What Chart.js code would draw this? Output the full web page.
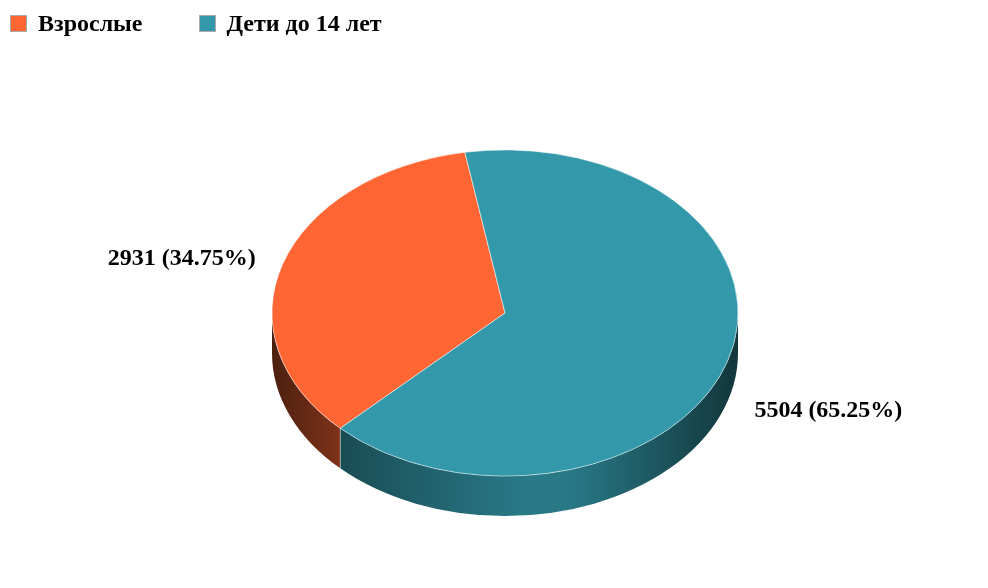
<!DOCTYPE html>
<html lang="ru">
<head>
<meta charset="UTF-8">
<title>Взрослые и дети</title>
<script src="https://cdn.jsdelivr.net/npm/chart.js"></script>
<style>
  body { margin: 0; background: #fff; }
  .wrap { position: relative; width: 988px; height: 588px; }
  .legend {
    position: absolute; top: 10px; left: 10px;
    display: flex; align-items: center;
    font: bold 24px/26px "Liberation Serif", "Times New Roman", serif;
    color: #000;
  }
  .legend .item { display: flex; align-items: center; margin-right: 56px; }
  .legend .box {
    width: 15px; height: 15px; border: 1px solid #aaa;
    margin-right: 11px;
  }
</style>
</head>
<body>
<div class="wrap">
  <canvas id="pie" width="988" height="588"></canvas>
  <div class="legend" id="legend"></div>
</div>

<script>
// данные
const labels = ['Взрослые', 'Дети до 14 лет'];
const values = [2931, 5504];
const colors = ['#FF6633', '#3399AA'];

const TILT = 0.70;   // ry / rx
const DEPTH = 40;    // толщина "3D" бока
const sideStops = [[0, 0.3], [0.15, 0.5], [0.55, 0.8], [0.65, 0.78], [1, 0.35]];

function shade(hex, f) {
  const n = parseInt(hex.slice(1), 16);
  const r = Math.round(((n >> 16) & 255) * f);
  const g = Math.round(((n >> 8) & 255) * f);
  const b = Math.round((n & 255) * f);
  return `rgb(${r},${g},${b})`;
}

// html легенда
const legendEl = document.getElementById('legend');
labels.forEach((l, i) => {
  const it = document.createElement('div');
  it.className = 'item';
  it.innerHTML = `<span class="box" style="background:${colors[i]}"></span><span>${l}</span>`;
  legendEl.appendChild(it);
});

const pie3d = {
  id: 'pie3d',
  beforeDatasetsDraw(chart) {
    const ctx = chart.ctx;
    const arcs = chart.getDatasetMeta(0).data;
    if (!arcs.length) return;
    const cx = arcs[0].x, cy = arcs[0].y, rx = arcs[0].outerRadius, ry = rx * TILT;

    // боковая стенка (только передняя половина)
    arcs.forEach((arc, i) => {
      for (let k = -1; k <= 2; k++) {
        const lo = Math.max(arc.startAngle, 2 * Math.PI * k);
        const hi = Math.min(arc.endAngle, 2 * Math.PI * k + Math.PI);
        if (hi <= lo) continue;
        const g = ctx.createLinearGradient(cx - rx, 0, cx + rx, 0);
        sideStops.forEach(s => g.addColorStop(s[0], shade(colors[i], s[1])));
        ctx.beginPath();
        ctx.ellipse(cx, cy, rx, ry, 0, lo, hi);
        ctx.ellipse(cx, cy + DEPTH, rx, ry, 0, hi, lo, true);
        ctx.closePath();
        ctx.fillStyle = g;
        ctx.fill();
      }
    });
    // линии на стыках сегментов
    ctx.strokeStyle = 'rgba(255,255,255,0.45)';
    ctx.lineWidth = 1;
    arcs.forEach(arc => {
      const a = arc.startAngle;
      if (Math.sin(a) > 0) {
        const x = cx + rx * Math.cos(a), y = cy + ry * Math.sin(a);
        ctx.beginPath();
        ctx.moveTo(x, y);
        ctx.lineTo(x, y + DEPTH);
        ctx.stroke();
      }
    });

    // сжатие круга в эллипс
    ctx.save();
    ctx.translate(cx, cy);
    ctx.scale(1, TILT);
    ctx.translate(-cx, -cy);
  },
  afterDatasetsDraw(chart) {
    const ctx = chart.ctx;
    ctx.restore();
    const arcs = chart.getDatasetMeta(0).data;
    if (!arcs.length) return;
    const cx = arcs[0].x, cy = arcs[0].y, rx = arcs[0].outerRadius, ry = rx * TILT;
    const total = values.reduce((a, b) => a + b, 0);

    ctx.save();
    ctx.font = 'bold 24px "Liberation Serif", "Times New Roman", serif';
    ctx.fillStyle = '#000';
    ctx.textBaseline = 'middle';
    arcs.forEach((arc, i) => {
      const mid = (arc.startAngle + arc.endAngle) / 2;
      const c = Math.cos(mid), s = Math.sin(mid);
      let x = cx + rx * 1.1 * c;
      const y = cy + ry * 1.1 * s + (s > 0 ? DEPTH + 4 : 0);
      ctx.textAlign = c < 0 ? 'right' : 'left';
      x += c < 0 ? -5 : 5;
      const pct = (values[i] / total * 100).toFixed(2);
      ctx.fillText(`${values[i]} (${pct}%)`, x, y);
    });
    ctx.restore();
  }
};

new Chart(document.getElementById('pie'), {
  type: 'pie',
  data: {
    labels: labels,
    datasets: [{
      data: values,
      backgroundColor: colors,
      borderColor: 'rgba(255,255,255,0.6)',
      borderWidth: 1
    }]
  },
  options: {
    responsive: false,
    animation: false,
    rotation: 225,
    radius: 233,
    layout: { padding: { left: 22, top: 38 } },
    plugins: {
      legend: { display: false },
      tooltip: { enabled: false }
    }
  },
  plugins: [pie3d]
});
</script>
</body>
</html>
